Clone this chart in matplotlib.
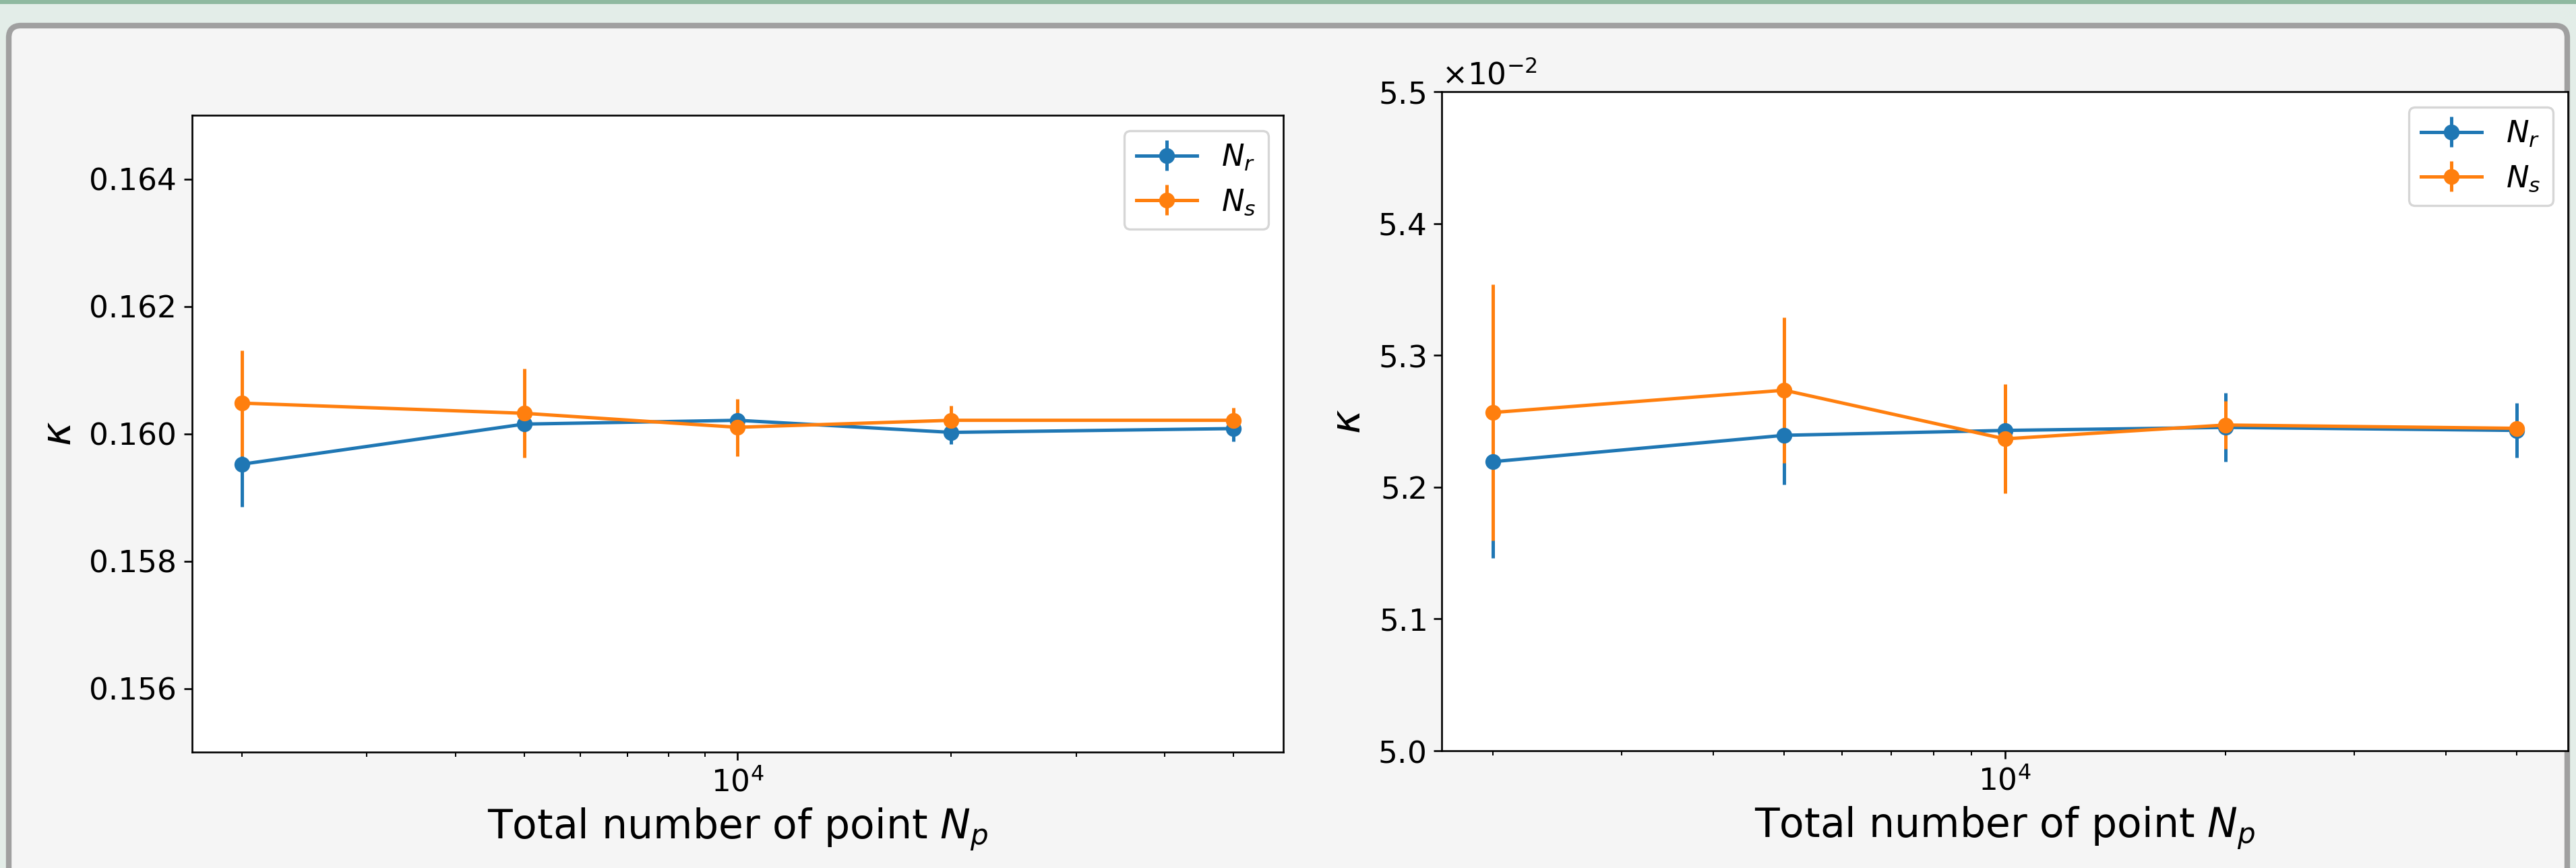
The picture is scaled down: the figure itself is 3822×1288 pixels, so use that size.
import matplotlib
matplotlib.use("Agg")
import matplotlib.pyplot as plt
from matplotlib.patches import Rectangle, FancyBboxPatch

# total number of points
n_points = [2000, 5000, 10000, 20000, 50000]

# left panel: kappa
kappa_r = [0.15952, 0.16015, 0.16021, 0.16002, 0.16008]
kappa_r_err = [0.00067, 0.0004, 0.0002, 0.00018, 0.0002]
kappa_s = [0.16048, 0.16032, 0.16010, 0.16021, 0.16021]
kappa_s_err = [0.00083, 0.0007, 0.00045, 0.00023, 0.0002]

# right panel: kappa (x 1e-2)
kappa2_r = [5.2193, 5.2393, 5.2430, 5.2453, 5.2430]
kappa2_r_err = [0.073, 0.0374, 0.03, 0.026, 0.0206]
kappa2_s = [5.2566, 5.2735, 5.2366, 5.2471, 5.2446]
kappa2_s_err = [0.097, 0.055, 0.0415, 0.018, 0.005]

labels = [r'$N_r$', r'$N_s$']
xlabel = r'Total number of point $N_p$'

W, H, DPI = 3822, 1288, 240
TICK_FS = 13.6
LABEL_FS = 18

fig = plt.figure(figsize=(W / DPI, H / DPI), dpi=DPI, facecolor='#e3ede8')

## screenshot frame
bg = fig.add_axes([0, 0, 1, 1], zorder=-10)
bg.set_xlim(0, W)
bg.set_ylim(H, 0)
bg.axis('off')
bg.add_patch(Rectangle((0, 0), W, 6, color='#8fb9a0', lw=0))
bg.add_patch(FancyBboxPatch((13, 38), W - 26, H + 40,
                            boxstyle='round,pad=0,rounding_size=18',
                            facecolor='#f5f5f5', edgecolor='#a0a0a0', lw=2.5))


def panel(ax, ys, errs):
    for y, e, lab in zip(ys, errs, labels):
        ax.errorbar(n_points, y, yerr=e, marker='o', label=lab)
    ax.set_xscale('log')
    ax.set_xlabel(xlabel, fontsize=LABEL_FS)
    ax.set_ylabel(r'$\kappa$', fontsize=LABEL_FS)
    ax.tick_params(labelsize=TICK_FS)
    ax.legend(loc='upper right', fontsize=13.5)


ax1 = fig.add_axes([285 / W, 1 - 1116 / H, 1619 / W, 945 / H])
panel(ax1, [kappa_r, kappa_s], [kappa_r_err, kappa_s_err])
ax1.set_ylim(0.155, 0.165)
ax1.set_yticks([0.156, 0.158, 0.160, 0.162, 0.164])

ax2 = fig.add_axes([2139 / W, 1 - 1114 / H, 1671 / W, 978 / H])
panel(ax2, [[v * 1e-2 for v in kappa2_r], [v * 1e-2 for v in kappa2_s]],
      [[v * 1e-2 for v in kappa2_r_err], [v * 1e-2 for v in kappa2_s_err]])
ax2.set_ylim(0.050, 0.055)
ax2.ticklabel_format(style='sci', axis='y', scilimits=(0, 0), useMathText=True)
ax2.yaxis.get_offset_text().set_fontsize(TICK_FS)

fig.savefig('out.png', dpi=DPI, facecolor=fig.get_facecolor())
